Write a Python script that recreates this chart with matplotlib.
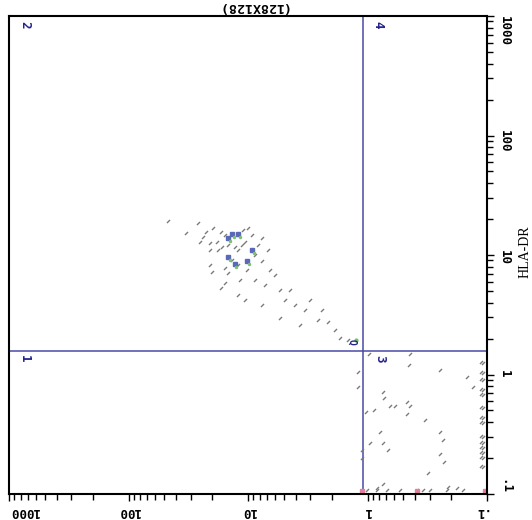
import matplotlib
matplotlib.use("Agg")
import matplotlib.pyplot as plt
from matplotlib.ticker import NullFormatter

# events in the upper quadrant (x = CD?, y = HLA-DR)
cluster_x = [46.7, 26.2, 33.0, 22.5, 19.6, 16.8, 15.6, 11.0, 10.0, 25.2, 23.8, 20.8, 18.2, 17.9,
             16.5, 14.7, 12.9, 12.1, 11.2, 10.6, 20.8, 13.6, 20.8, 20.0, 15.6, 14.7, 12.1, 11.7,
             10.2, 16.8, 15.6, 12.1, 9.26, 8.25, 7.63, 8.74, 7.63, 6.80, 6.55, 8.74, 7.20, 5.95,
             5.40, 4.45, 4.90, 4.04, 3.34, 3.03, 2.59, 2.40, 2.14, 1.87, 1.70, 1.46, 10.6, 7.63,
             5.40, 3.67]
cluster_y = [19.3, 18.5, 15.3, 15.6, 16.8, 15.6, 14.7, 16.2, 16.8, 12.9, 14.2, 12.6, 12.9, 11.0,
             11.7, 12.1, 11.7, 11.0, 12.1, 12.9, 11.0, 9.08, 8.25, 7.20, 7.78, 7.07, 8.25, 6.18,
             7.49, 5.30, 5.83, 4.63, 14.7, 12.1, 13.9, 10.0, 8.91, 11.0, 7.49, 6.18, 5.61, 6.80,
             5.10, 5.10, 4.20, 3.82, 3.47, 4.20, 2.86, 3.47, 2.75, 2.36, 2.02, 1.95, 4.20, 3.82,
             2.97, 2.59]

# denser spots (coloured)
dense_x = [14.7, 13.6, 12.1, 14.7, 12.9, 10.2, 9.26]
dense_y = [13.9, 15.0, 15.0, 9.62, 8.41, 8.91, 11.0]

# events in the lower quadrants
low_x = [0.98, 0.44, 0.45, 0.247, 0.148, 0.130, 0.74, 0.73, 0.65, 0.59, 0.47, 0.44, 0.47, 1.02,
         0.89, 0.33, 0.79, 0.95, 0.74, 0.67, 0.247, 0.232, 0.247, 0.229, 0.31, 0.74, 0.84, 1.12,
         1.12, 1.19, 1.19, 0.179, 0.21]
low_y = [1.49, 1.49, 1.20, 1.10, 0.96, 0.78, 0.72, 0.63, 0.545, 0.545, 0.59, 0.545, 0.47, 0.49,
         0.50, 0.42, 0.33, 0.265, 0.265, 0.233, 0.33, 0.283, 0.216, 0.186, 0.151, 0.121, 0.112,
         0.199, 0.233, 1.05, 0.79, 0.112, 0.115]

# events piled up at the lowest channel
floor_value = 0.107
right_edge_y = [1.25, 1.03, 0.90, 0.74, 0.67, 0.52, 0.43, 0.39, 0.30, 0.267, 0.243, 0.22, 0.20, 0.168]
bottom_edge_x = [1.01, 0.83, 0.69, 0.53, 0.385, 0.343, 0.30, 0.216, 0.159]
pink_x = [1.11, 0.385, 0.104]

quad_x = 1.09
quad_y = 1.58

decades = [0.1, 1, 10, 100, 1000]
decade_labels = [".1", "1", "10", "100", "1000"]

navy = "#24248c"
line_col = "#4a4aa8"
dash = [(-1, -1), (1, 1)]
mono = "DejaVu Sans Mono"
dot = dict(ls="none", marker=dash, ms=2.2, mew=1.0, color="#7a7a7a")

fig = plt.figure(figsize=(5.32, 5.2), dpi=100)
ax = fig.add_axes([9 / 532, 26 / 520, 478 / 532, 478 / 520])
ax.set_xscale("log")
ax.set_yscale("log")
ax.set_xlim(1000, 0.1)
ax.set_ylim(0.1, 1000)

ax.axvline(quad_x, color=line_col, lw=1.1, zorder=1)
ax.axhline(quad_y, color=line_col, lw=1.1, zorder=1)

ax.plot(cluster_x, cluster_y, **dot)
ax.plot(low_x, low_y, **dot)
ax.plot([floor_value] * len(right_edge_y), right_edge_y, **dot)
ax.plot([floor_value * 1.04] * len(right_edge_y), [v * 1.02 for v in right_edge_y], **dot)
ax.plot(bottom_edge_x, [floor_value] * len(bottom_edge_x), **dot)
ax.plot(pink_x, [0.105] * len(pink_x), ls="none", marker="s", ms=3, color="#e2809c")
ax.plot(dense_x, dense_y, ls="none", marker="s", ms=3, color="#5a68b8")
ax.plot([d * 0.97 for d in dense_x], [d * 0.95 for d in dense_y], ls="none", marker="o", ms=1.5,
        color="#7cc070")

# gate marker near the quadrant origin
ax.text(1.35, 1.87, "Q", color=navy, fontsize=7, rotation=-90, ha="center", va="center",
        family=mono, weight="bold")
ax.plot([1.25], [1.95], ls="none", marker="o", ms=2, color="#6cc060")

for lab, xf, yf in [("2", 0.033, 0.981), ("4", 0.772, 0.981), ("1", 0.033, 0.283), ("3", 0.776, 0.283)]:
    ax.text(xf, yf, lab, transform=ax.transAxes, color=navy, fontsize=9, rotation=-90,
            ha="center", va="center", family=mono, weight="bold")

for side in ax.spines.values():
    side.set_linewidth(1.5)

ax.set_xticks(decades)
ax.set_xticklabels(decade_labels, rotation=180, family=mono, weight="bold", fontsize=9)
ax.xaxis.set_minor_formatter(NullFormatter())
ax.yaxis.tick_right()
ax.set_yticks(decades)
ax.set_yticklabels(decade_labels, rotation=-90, family=mono, weight="bold", fontsize=9)
ax.yaxis.set_minor_formatter(NullFormatter())
ax.tick_params(which="major", length=5, width=1, pad=3)
ax.tick_params(which="minor", length=4, width=1)

xl = ax.get_xticklabels()
xl[0].set_ha("right")
xl[-1].set_ha("left")
yl = ax.get_yticklabels()
yl[0].set_va("bottom")
yl[-1].set_va("top")

ax.yaxis.set_label_position("right")
ax.set_ylabel("HLA-DR", family="Liberation Serif", fontsize=10, rotation=90)
ax.yaxis.set_label_coords(1.066, 0.506)

fig.text(251 / 532, 1 - 7 / 520, "(128X128)", rotation=180, ha="center", va="center",
         family=mono, weight="bold", fontsize=9.5)

fig.savefig("out.png", dpi=100)
